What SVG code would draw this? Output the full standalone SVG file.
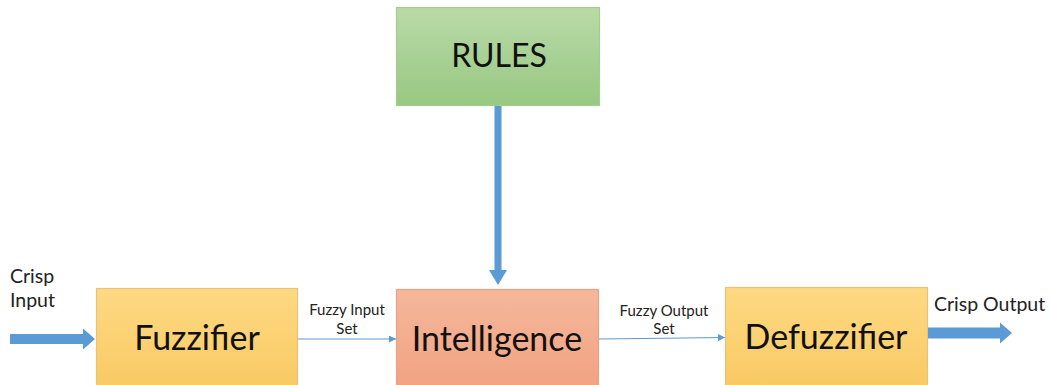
<svg xmlns="http://www.w3.org/2000/svg" width="1050" height="385" viewBox="0 0 1050 385">
  <defs>
    <linearGradient id="gGreen" x1="0" y1="0" x2="0" y2="1">
      <stop offset="0" stop-color="#b9daa8"/>
      <stop offset="1" stop-color="#98c882"/>
    </linearGradient>
    <linearGradient id="gOrange" x1="0" y1="0" x2="0" y2="1">
      <stop offset="0" stop-color="#fed983"/>
      <stop offset="1" stop-color="#f8c860"/>
    </linearGradient>
    <linearGradient id="gRed" x1="0" y1="0" x2="0" y2="1">
      <stop offset="0" stop-color="#f5b79b"/>
      <stop offset="1" stop-color="#f1a07f"/>
    </linearGradient>
    <marker id="thin" viewBox="0 0 10 10" refX="10" refY="5" markerWidth="7" markerHeight="7" markerUnits="userSpaceOnUse" orient="auto">
      <path d="M0,0 L10,5 L0,10 z" fill="#5b9bd5"/>
    </marker>
  </defs>
  <style>
    .box { stroke-width: 1.2; }
    .lbl { font-family: Lato, "Open Sans", "Liberation Sans", sans-serif; fill: #111; text-anchor: middle; }
    .big { font-size: 34px; }
    .sm { font-size: 15px; fill: #222; }
    .md { font-size: 19.5px; fill: #222; text-anchor: start; }
    .thick { fill: #5b9bd5; }
    .line { stroke: #5b9bd5; stroke-width: 1.2; fill: none; }
  </style>
  <rect width="1050" height="385" fill="#ffffff"/>

  <g id="rules">
    <rect class="box" x="396.5" y="7.5" width="203" height="98" fill="url(#gGreen)" stroke="#a3cc8e"/>
    <text class="lbl" x="499" y="67" font-size="32">RULES</text>
  </g>
  <g id="fuzzifier">
    <rect class="box" x="96.5" y="288.5" width="201" height="110" fill="url(#gOrange)" stroke="#e9c27a"/>
    <text class="lbl big" x="197" y="350">Fuzzifier</text>
  </g>
  <g id="intelligence">
    <rect class="box" x="396.5" y="289.5" width="202" height="110" fill="url(#gRed)" stroke="#e8a285"/>
    <text class="lbl big" x="497" y="351">Intelligence</text>
  </g>
  <g id="defuzzifier">
    <rect class="box" x="725.5" y="287.5" width="202" height="110" fill="url(#gOrange)" stroke="#e9c27a"/>
    <text class="lbl big" x="826" y="349">Defuzzifier</text>
  </g>

  <g id="connectors">
    <path class="thick" d="M10,334 L83,334 L83,328.5 L95,339 L83,349.5 L83,344 L10,344 z"/>
    <path class="thick" d="M494.5,106 L501.5,106 L501.5,270 L507,270 L498,285 L489,270 L494.5,270 z"/>
    <path class="thick" d="M928,327.5 L1000,327.5 L1000,322.5 L1012,333 L1000,343.5 L1000,338.5 L928,338.5 z"/>
    <line class="line" x1="298" y1="339" x2="396" y2="339" marker-end="url(#thin)"/>
    <line class="line" x1="599" y1="339" x2="725" y2="337.5" marker-end="url(#thin)"/>
  </g>

  <g id="labels">
    <text class="lbl sm" x="347" y="315">Fuzzy Input</text>
    <text class="lbl sm" x="347" y="334">Set</text>
    <text class="lbl sm" x="664" y="316">Fuzzy Output</text>
    <text class="lbl sm" x="664" y="334">Set</text>
    <text class="lbl md" x="10" y="283">Crisp</text>
    <text class="lbl md" x="10" y="307">Input</text>
    <text class="lbl md" x="934" y="311">Crisp Output</text>
  </g>
</svg>
